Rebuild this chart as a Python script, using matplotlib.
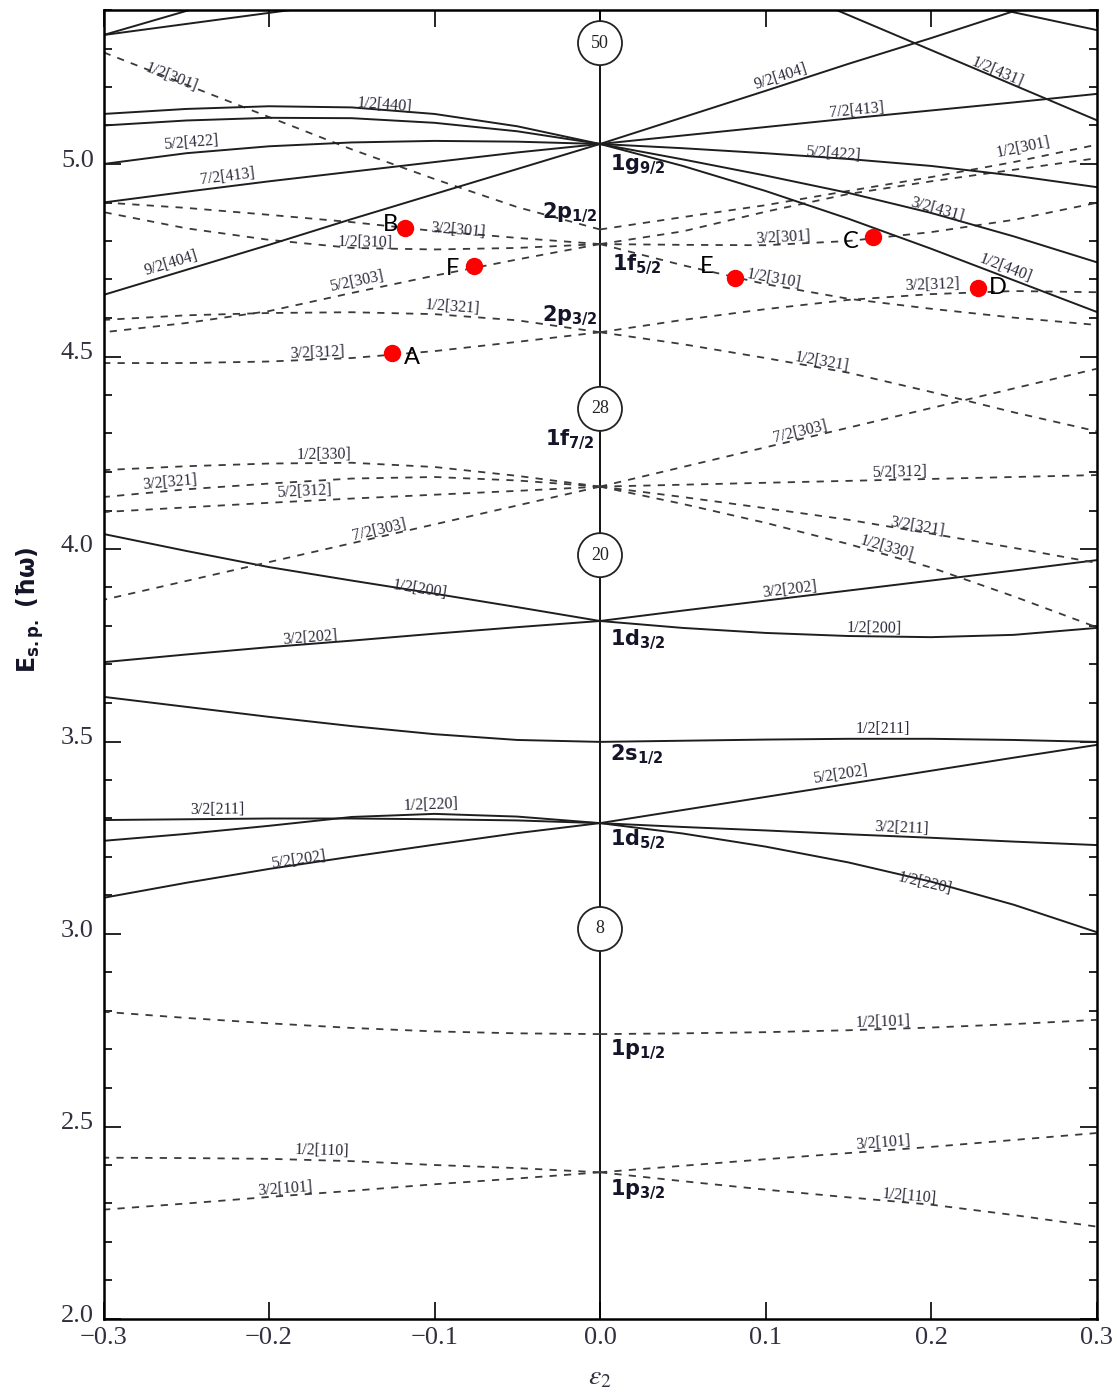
import numpy as np
import matplotlib.pyplot as plt
import matplotlib.transforms as mtransforms
from matplotlib.patches import Ellipse

# deformation grid, from the spherical point outwards (left branches use -eps)
eps_grid = [0.0, 0.05, 0.10, 0.15, 0.20, 0.25, 0.30]

# (Nilsson label, side, style, energies along eps_grid)
levels_n1 = [
    ("3/2[101]", "R", "--", [2.381, 2.398, 2.415, 2.431, 2.447, 2.465, 2.483]),
    ("1/2[110]", "R", "--", [2.381, 2.358, 2.336, 2.316, 2.297, 2.270, 2.240]),
    ("1/2[101]", "R", "--", [2.740, 2.742, 2.745, 2.750, 2.757, 2.766, 2.777]),
    ("1/2[110]", "L", "--", [2.381, 2.392, 2.400, 2.410, 2.416, 2.418, 2.419]),
    ("3/2[101]", "L", "--", [2.381, 2.365, 2.350, 2.333, 2.317, 2.300, 2.284]),
    ("1/2[101]", "L", "--", [2.740, 2.742, 2.747, 2.756, 2.768, 2.782, 2.798]),
]

levels_n2 = [
    ("5/2[202]", "R", "-", [3.288, 3.322, 3.356, 3.390, 3.424, 3.458, 3.491]),
    ("3/2[211]", "R", "-", [3.288, 3.278, 3.269, 3.259, 3.250, 3.240, 3.231]),
    ("1/2[220]", "R", "-", [3.288, 3.261, 3.227, 3.186, 3.136, 3.076, 3.005]),
    ("1/2[211]", "R", "-", [3.499, 3.502, 3.505, 3.507, 3.507, 3.504, 3.499]),
    ("3/2[202]", "R", "-", [3.813, 3.840, 3.866, 3.892, 3.918, 3.944, 3.971]),
    ("1/2[200]", "R", "-", [3.813, 3.795, 3.782, 3.774, 3.771, 3.777, 3.795]),
    ("3/2[211]", "L", "-", [3.288, 3.295, 3.298, 3.300, 3.300, 3.298, 3.296]),
    ("1/2[220]", "L", "-", [3.288, 3.305, 3.312, 3.304, 3.281, 3.260, 3.242]),
    ("5/2[202]", "L", "-", [3.288, 3.262, 3.232, 3.201, 3.169, 3.133, 3.094]),
    ("1/2[211]", "L", "-", [3.499, 3.504, 3.519, 3.540, 3.564, 3.590, 3.616]),
    ("1/2[200]", "L", "-", [3.813, 3.849, 3.884, 3.918, 3.953, 3.995, 4.039]),
    ("3/2[202]", "L", "-", [3.813, 3.797, 3.780, 3.762, 3.745, 3.726, 3.706]),
]

levels_n3 = [
    ("7/2[303]", "R", "--", [4.162, 4.213, 4.264, 4.315, 4.366, 4.417, 4.468]),
    ("5/2[312]", "R", "--", [4.162, 4.167, 4.172, 4.177, 4.182, 4.187, 4.192]),
    ("3/2[321]", "R", "--", [4.162, 4.135, 4.106, 4.076, 4.040, 4.003, 3.964]),
    ("1/2[330]", "R", "--", [4.162, 4.117, 4.068, 4.013, 3.952, 3.877, 3.797]),
    ("3/2[312]", "R", "--", [4.563, 4.595, 4.623, 4.647, 4.662, 4.670, 4.667]),
    ("1/2[321]", "R", "--", [4.563, 4.532, 4.496, 4.458, 4.408, 4.355, 4.306]),
    ("1/2[310]", "R", "--", [4.792, 4.737, 4.688, 4.650, 4.624, 4.601, 4.582]),
    ("3/2[301]", "R", "--", [4.792, 4.790, 4.789, 4.800, 4.823, 4.855, 4.899]),
    ("5/2[303]", "R", "--", [4.792, 4.825, 4.876, 4.922, 4.955, 4.985, 5.015]),
    ("1/2[301]", "R", "--", [4.830, 4.862, 4.893, 4.930, 4.966, 5.005, 5.050]),
    ("7/2[303]", "L", "--", [4.162, 4.113, 4.064, 4.015, 3.966, 3.917, 3.868]),
    ("5/2[312]", "L", "--", [4.162, 4.151, 4.141, 4.131, 4.120, 4.108, 4.096]),
    ("3/2[321]", "L", "--", [4.162, 4.178, 4.187, 4.183, 4.170, 4.155, 4.135]),
    ("1/2[330]", "L", "--", [4.162, 4.190, 4.213, 4.224, 4.222, 4.215, 4.205]),
    ("3/2[312]", "L", "--", [4.563, 4.538, 4.514, 4.496, 4.487, 4.483, 4.483]),
    ("1/2[321]", "L", "--", [4.563, 4.594, 4.610, 4.615, 4.613, 4.607, 4.595]),
    ("5/2[303]", "L", "--", [4.792, 4.752, 4.710, 4.665, 4.618, 4.587, 4.563]),
    ("1/2[310]", "L", "--", [4.792, 4.782, 4.778, 4.782, 4.803, 4.833, 4.875]),
    ("3/2[301]", "L", "--", [4.792, 4.808, 4.826, 4.849, 4.868, 4.886, 4.900]),
    ("1/2[301]", "L", "--", [4.830, 4.888, 4.961, 5.038, 5.122, 5.206, 5.290]),
]

levels_n4 = [
    ("9/2[404]", "R", "-", [5.052, 5.121, 5.190, 5.260, 5.327, 5.397, 5.465]),
    ("7/2[413]", "R", "-", [5.052, 5.074, 5.096, 5.118, 5.139, 5.160, 5.182]),
    ("5/2[422]", "R", "-", [5.052, 5.041, 5.028, 5.013, 4.995, 4.970, 4.940]),
    ("3/2[431]", "R", "-", [5.052, 5.012, 4.970, 4.925, 4.873, 4.812, 4.745]),
    ("1/2[440]", "R", "-", [5.052, 4.995, 4.930, 4.858, 4.780, 4.698, 4.616]),
    ("9/2[404]", "L", "-", [5.052, 4.987, 4.922, 4.857, 4.790, 4.725, 4.660]),
    ("7/2[413]", "L", "-", [5.052, 5.030, 5.005, 4.980, 4.955, 4.928, 4.900]),
    ("5/2[422]", "L", "-", [5.052, 5.058, 5.060, 5.056, 5.046, 5.028, 5.000]),
    ("3/2[431]", "L", "-", [5.052, 5.085, 5.107, 5.119, 5.120, 5.113, 5.100]),
    ("1/2[440]", "L", "-", [5.052, 5.098, 5.130, 5.147, 5.150, 5.143, 5.130]),
]

# levels of higher shells that come in through the top
upper_names = ["1/2[431]", "", "", ""]
upper_eps = [[0.10, 0.30], [0.20, 0.30], [-0.30, -0.20], [-0.30, -0.10]]
upper_E = [[5.478, 5.114], [5.440, 5.348], [5.335, 5.460], [5.335, 5.450]]

# label text, side, centre (eps, E)
orbit_labels = [
    ("9/2[404]", "R", 0.109, 5.226), ("1/2[431]", "U", 0.240, 5.239),
    ("7/2[413]", "R", 0.155, 5.140), ("5/2[422]", "R", 0.141, 5.026),
    ("1/2[301]", "R", 0.256, 5.044), ("3/2[431]", "R", 0.204, 4.881),
    ("3/2[301]", "R", 0.111, 4.808), ("1/2[440]", "R", 0.245, 4.730),
    ("1/2[310]", "R", 0.105, 4.701), ("3/2[312]", "R", 0.201, 4.686),
    ("1/2[321]", "R", 0.134, 4.486), ("7/2[303]", "R", 0.121, 4.304),
    ("5/2[312]", "R", 0.181, 4.200), ("3/2[321]", "R", 0.192, 4.057),
    ("1/2[330]", "R", 0.173, 4.003), ("3/2[202]", "R", 0.115, 3.894),
    ("1/2[200]", "R", 0.166, 3.795), ("1/2[211]", "R", 0.171, 3.532),
    ("5/2[202]", "R", 0.145, 3.413), ("3/2[211]", "R", 0.182, 3.275),
    ("1/2[220]", "R", 0.196, 3.132), ("1/2[101]", "R", 0.171, 2.771),
    ("3/2[101]", "R", 0.171, 2.457), ("1/2[110]", "R", 0.187, 2.319),
    ("1/2[301]", "L", -0.259, 5.226), ("1/2[440]", "L", -0.130, 5.153),
    ("5/2[422]", "L", -0.247, 5.055), ("7/2[413]", "L", -0.225, 4.966),
    ("9/2[404]", "L", -0.259, 4.743), ("3/2[301]", "L", -0.086, 4.829),
    ("1/2[310]", "L", -0.142, 4.795), ("5/2[303]", "L", -0.147, 4.694),
    ("1/2[321]", "L", -0.089, 4.629), ("3/2[312]", "L", -0.171, 4.509),
    ("1/2[330]", "L", -0.167, 4.244), ("3/2[321]", "L", -0.260, 4.174),
    ("5/2[312]", "L", -0.179, 4.148), ("7/2[303]", "L", -0.133, 4.049),
    ("1/2[200]", "L", -0.109, 3.894), ("3/2[202]", "L", -0.175, 3.769),
    ("3/2[211]", "L", -0.231, 3.322), ("1/2[220]", "L", -0.102, 3.335),
    ("5/2[202]", "L", -0.182, 3.192), ("1/2[110]", "L", -0.168, 2.436),
    ("3/2[101]", "L", -0.190, 2.338),
]

spherical_names = [r"1g_{9/2}", r"2p_{1/2}", r"1f_{5/2}", r"2p_{3/2}", r"1f_{7/2}",
                   r"1d_{3/2}", r"2s_{1/2}", r"1d_{5/2}", r"1p_{1/2}", r"1p_{3/2}"]
spherical_eps = [0.006, -0.035, 0.007, -0.035, -0.033, 0.006, 0.006, 0.006, 0.006, 0.006]
spherical_E = [4.997, 4.873, 4.738, 4.605, 4.283, 3.764, 3.465, 3.244, 2.699, 2.335]

magic_numbers = ["8", "20", "28", "50"]
magic_E = [3.013, 3.984, 4.364, 5.314]

point_names = ["A", "B", "C", "D", "E", "F"]
point_eps = [-0.1257, -0.1178, 0.165, 0.2284, 0.0816, -0.0761]
point_E = [4.509, 4.834, 4.810, 4.678, 4.704, 4.735]
# letter offset from its dot, in pixels (right, down)
point_text_offset = [(20, 4), (-15, -3), (-22, 4), (20, 0), (-28, -11), (-21, 2)]

fig = plt.figure(figsize=(11.18, 13.94), dpi=100)
ax = fig.add_axes([103.5 / 1118, 1 - 1319 / 1394, 993 / 1118, 1309 / 1394])
ax.set_xlim(-0.3, 0.3)
ax.set_ylim(2.0, 5.4)

ax.axvline(0, color="black", lw=1.3, zorder=1)

lines = {}
for lev in levels_n1 + levels_n2 + levels_n3 + levels_n4:
    name, side, style, energies = lev
    sign = 1 if side == "R" else -1
    xs = [sign * e for e in eps_grid]
    if style == "-":
        ax.plot(xs, energies, color="#1e1e1e", lw=1.4, zorder=2)
    else:
        ax.plot(xs, energies, color="#3a3a3a", lw=1.3, dashes=(4, 4), zorder=2)
    lines[(name, side)] = (xs, energies)

for name, xs, es in zip(upper_names, upper_eps, upper_E):
    ax.plot(xs, es, color="#1e1e1e", lw=1.4, zorder=2)
    if name:
        lines[(name, "U")] = (xs, es)


def label_angle(xs, es, x0):
    xs = np.asarray(xs)
    es = np.asarray(es)
    order = np.argsort(xs)
    xs, es = xs[order], es[order]
    i = np.searchsorted(xs, x0)
    i = min(max(i, 1), len(xs) - 1)
    p = ax.transData.transform([(xs[i - 1], es[i - 1]), (xs[i], es[i])])
    return np.degrees(np.arctan2(p[1, 1] - p[0, 1], p[1, 0] - p[0, 0]))


for text, side, x0, e0 in orbit_labels:
    xs, es = lines[(text, side)]
    ang = label_angle(xs, es, x0)
    ax.text(x0, e0, text, fontsize=11.5, family="Liberation Serif", color="#2a2a3a",
            rotation=ang, rotation_mode="anchor", ha="center", va="center", zorder=5)

for name, x0, e0 in zip(spherical_names, spherical_eps, spherical_E):
    main, sub = name.split("_")
    ax.text(x0, e0, r"$\mathbf{%s}_{\mathbf{%s}}$" % (main, sub.strip("{}")),
            fontsize=15, math_fontfamily="dejavusans", color="#15152a",
            ha="left", va="center", zorder=5)

# magic numbers in circles
w = 44 / 1655
h = 44 / 385
for num, e0 in zip(magic_numbers, magic_E):
    ax.add_patch(Ellipse((0, e0), w, h, facecolor="white", edgecolor="#222222",
                         lw=1.3, zorder=4))
    ax.text(0, e0, num, fontsize=13, family="Liberation Serif", ha="center",
            va="center", zorder=5, color="#222222")

# marked points
ax.plot(point_eps, point_E, "o", color="red", markersize=11.5, zorder=6)
for name, x0, e0, (dx, dy) in zip(point_names, point_eps, point_E, point_text_offset):
    ax.annotate(name, (x0, e0), xytext=(dx * 0.72, -dy * 0.72), textcoords="offset points",
                fontsize=17, family="Lato", ha="center", va="center", zorder=6)

ax.set_xticks(np.arange(-0.3, 0.31, 0.1))
ax.set_yticks(np.arange(2.0, 5.01, 0.5))
ax.set_yticks(np.arange(2.0, 5.41, 0.1), minor=True)
ax.tick_params(which="both", direction="in", top=True, right=True,
               labelsize=19, labelcolor="#30303f", width=1.2)
ax.tick_params(which="major", length=12)
ax.tick_params(which="minor", length=6)
ax.tick_params(axis="x", pad=6)
ax.tick_params(axis="y", pad=7)
for lab in ax.get_xticklabels() + ax.get_yticklabels():
    lab.set_family("Liberation Serif")
offset = mtransforms.ScaledTranslation(0, 6 / 100, fig.dpi_scale_trans)
for lab in ax.get_yticklabels():
    lab.set_transform(lab.get_transform() + offset)
for sp in ax.spines.values():
    sp.set_linewidth(1.8)

ax.set_xlabel(r"$\varepsilon_2$", fontsize=20, math_fontfamily="stix", color="#30303f")
ax.xaxis.set_label_coords(0.5, -0.033)
ax.set_ylabel(r"$\mathbf{E}_{\mathbf{s.p.}}$ (ħω)", fontsize=17, fontweight="bold",
              family="DejaVu Sans", math_fontfamily="dejavusans", color="#15152a")
ax.yaxis.set_label_coords(-0.058, 0.542)

fig.savefig("out.png", dpi=100)
